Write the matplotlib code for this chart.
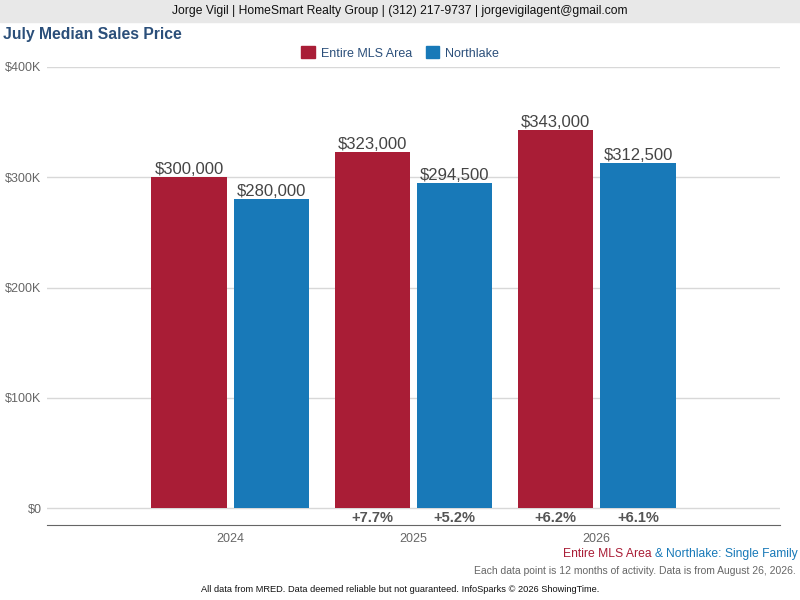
import matplotlib
matplotlib.use("Agg")
import matplotlib.pyplot as plt
from matplotlib.patches import FancyBboxPatch
import numpy as np

plt.rcParams['font.family'] = ['Liberation Sans', 'DejaVu Sans']

years = ['2024', '2025', '2026']
mls_area = [300000, 323000, 343000]
northlake = [280000, 294500, 312500]
mls_change = ['', '+7.7%', '+6.2%']
northlake_change = ['', '+5.2%', '+6.1%']

RED = '#A91D36'
BLUE = '#1879B8'
GRAY = '#555555'


def fmt_k(v):
    return '$0' if v == 0 else '${:,.0f}K'.format(v / 1000)


def main():
    fig = plt.figure(figsize=(8, 6), dpi=100)

    # header strip
    fig.patches.append(plt.Rectangle((0, 1 - 22 / 600), 1, 22 / 600, transform=fig.transFigure,
                                     color='#E8E8E8', zorder=0))
    fig.text(0.5, 1 - 11 / 600, 'Jorge Vigil | HomeSmart Realty Group | (312) 217-9737 | jorgevigilagent@gmail.com',
             ha='center', va='center', fontsize=8.7, color='#111111')
    fig.text(3 / 800, 1 - 35 / 600, 'July Median Sales Price', ha='left', va='center',
             fontsize=11.3, fontweight='bold', color='#2B4F7A')

    ax = fig.add_axes([47 / 800, 75 / 600, 733 / 800, (525 - 67) / 600])
    x = np.arange(len(years))
    w = 0.41
    off = 0.225
    b1 = ax.bar(x - off, mls_area, w, color=RED, zorder=3, label='Entire MLS Area')
    b2 = ax.bar(x + off, northlake, w, color=BLUE, zorder=3, label='Northlake')

    for bars, vals in ((b1, mls_area), (b2, northlake)):
        for b, v in zip(bars, vals):
            ax.text(b.get_x() + b.get_width() / 2, v + 300, '${:,}'.format(v),
                    ha='center', va='bottom', fontsize=12, color='#444444')

    for bars, ch in ((b1, mls_change), (b2, northlake_change)):
        for b, c in zip(bars, ch):
            if c:
                ax.text(b.get_x() + b.get_width() / 2, -9500, c, ha='center', va='center',
                        fontsize=10.5, fontweight='bold', color=GRAY)

    ax.set_xlim(-1, 3)
    ax.set_ylim(-15400, 400000)
    yt = [0, 100000, 200000, 300000, 400000]
    ax.set_yticks(yt)
    ax.set_yticklabels([fmt_k(v) for v in yt])
    ax.set_xticks(x)
    ax.set_xticklabels(years)
    ax.grid(axis='y', color='#D8D8D8', linewidth=1, zorder=0)
    for s in ('top', 'right', 'left'):
        ax.spines[s].set_visible(False)
    ax.spines['bottom'].set_color('#666666')
    ax.tick_params(axis='both', length=0, labelsize=9, labelcolor='#666666')
    ax.tick_params(axis='x', pad=6)
    ax.tick_params(axis='y', pad=4)

    # legend with rounded swatches
    handles = [FancyBboxPatch((0, 0), 1, 1, boxstyle='round,pad=0,rounding_size=0.25', color=c)
               for c in (RED, BLUE)]
    leg = fig.legend(handles=handles, labels=['Entire MLS Area', 'Northlake'], loc='center',
                     bbox_to_anchor=(0.5, 1 - 53 / 600), ncol=2,
                     frameon=False, fontsize=9, handlelength=1.1, handleheight=1.1,
                     handletextpad=0.45, columnspacing=1.1)
    for t in leg.get_texts():
        t.set_color('#2B4F7A')

    # footer
    y1 = 1 - 554 / 600
    t1 = fig.text(798 / 800, y1, 'Northlake: Single Family', ha='right', va='center',
                  fontsize=8.7, color=BLUE)
    fig.canvas.draw()
    bb = t1.get_window_extent()
    t2 = fig.text(bb.x0 / 800, y1, '& ', ha='right', va='center', fontsize=8.7, color=BLUE)
    bb = t2.get_window_extent()
    fig.text(bb.x0 / 800, y1, 'Entire MLS Area ', ha='right', va='center', fontsize=8.7, color=RED)

    fig.text(796 / 800, 1 - 571 / 600,
             'Each data point is 12 months of activity. Data is from August 26, 2026.',
             ha='right', va='center', fontsize=7.5, color='#666666')
    fig.text(400 / 800, 1 - 589 / 600,
             'All data from MRED. Data deemed reliable but not guaranteed. InfoSparks \u00a9 2026 ShowingTime.',
             ha='center', va='center', fontsize=6.7, color='#111111')

    fig.savefig('out.png', dpi=100)


main()
